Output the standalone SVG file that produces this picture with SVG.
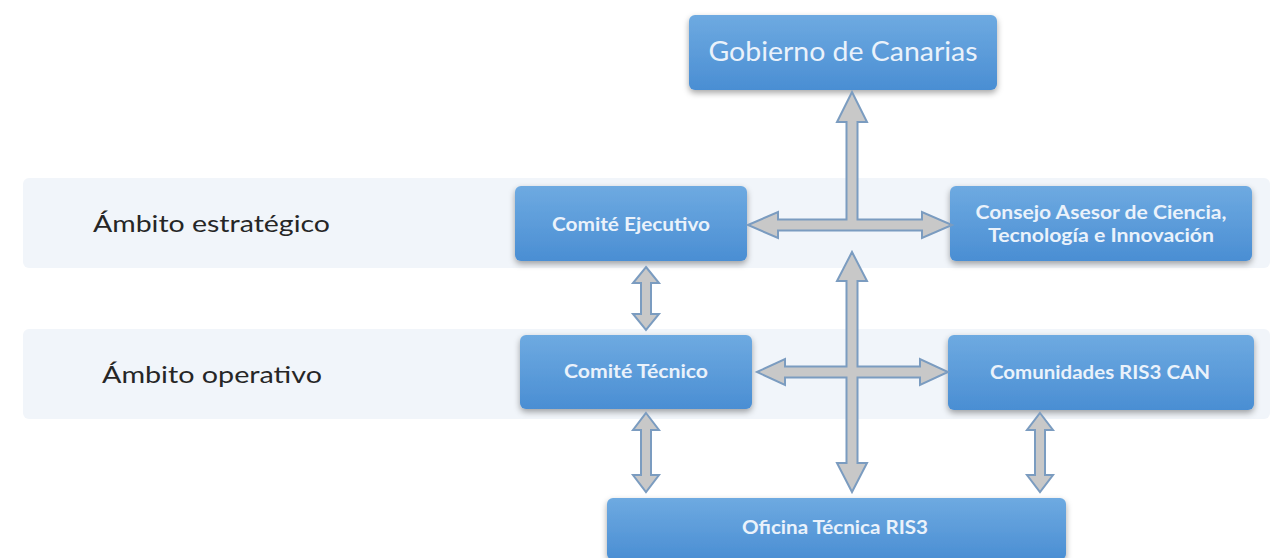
<svg xmlns="http://www.w3.org/2000/svg" width="1281" height="558" viewBox="0 0 1281 558">
<defs>
<linearGradient id="boxGrad" x1="0" y1="0" x2="0" y2="1">
<stop offset="0" stop-color="#6eaae1"/>
<stop offset="1" stop-color="#4a8ed3"/>
</linearGradient>
<filter id="shadow" x="-10%" y="-20%" width="120%" height="150%">
<feDropShadow dx="0" dy="3" stdDeviation="3" flood-color="#000" flood-opacity="0.35"/>
</filter>
<style>
.band{fill:#f1f5fa;}
.box{fill:url(#boxGrad);filter:url(#shadow);}
.lbl{font-family:Lato,"Open Sans","Liberation Sans",sans-serif;fill:#eaf2fb;text-anchor:middle;font-weight:bold;}
.side{font-family:Lato,"Open Sans","Liberation Sans",sans-serif;fill:#262626;font-size:24px;}
.arrow{fill:#c8c8c8;stroke:#7b9cc0;stroke-width:2;stroke-linejoin:miter;}
</style>
</defs>
<rect width="1281" height="558" fill="#ffffff"/>
<g id="bands">
<rect class="band" x="23" y="178" width="1247" height="90" rx="6"/>
<rect class="band" x="23" y="329" width="1247" height="90" rx="6"/>
<text class="side" x="93" y="232" textLength="237" lengthAdjust="spacingAndGlyphs">Ámbito estratégico</text>
<text class="side" x="102" y="383" textLength="220" lengthAdjust="spacingAndGlyphs">Ámbito operativo</text>
</g>
<g id="gobierno">
<rect class="box" x="689" y="15" width="308" height="75" rx="6"/>
<text class="lbl" x="843" y="61" font-size="26" style="font-weight:normal" textLength="269" lengthAdjust="spacingAndGlyphs">Gobierno de Canarias</text>
</g>
<g id="comite-ejecutivo">
<rect class="box" x="515" y="186" width="232" height="75" rx="6"/>
<text class="lbl" x="631" y="231" font-size="18" textLength="158" lengthAdjust="spacingAndGlyphs">Comité Ejecutivo</text>
</g>
<g id="consejo">
<rect class="box" x="950" y="186" width="302" height="75" rx="6"/>
<text class="lbl" x="1101" y="219" font-size="18" textLength="251" lengthAdjust="spacingAndGlyphs">Consejo Asesor de Ciencia,</text>
<text class="lbl" x="1101" y="242" font-size="18" textLength="226" lengthAdjust="spacingAndGlyphs">Tecnología e Innovación</text>
</g>
<g id="comite-tecnico">
<rect class="box" x="520" y="335" width="232" height="74" rx="6"/>
<text class="lbl" x="636" y="378" font-size="18" textLength="144" lengthAdjust="spacingAndGlyphs">Comité Técnico</text>
</g>
<g id="comunidades">
<rect class="box" x="948" y="335" width="306" height="75" rx="6"/>
<text class="lbl" x="1100" y="379" font-size="18" textLength="220" lengthAdjust="spacingAndGlyphs">Comunidades RIS3 CAN</text>
</g>
<g id="oficina">
<rect class="box" x="607" y="498" width="459" height="62" rx="6"/>
<text class="lbl" x="835" y="534" font-size="18" textLength="186" lengthAdjust="spacingAndGlyphs">Oficina Técnica RIS3</text>
</g>
<g id="connectors">
<polygon class="arrow" points="748,225 778,212 778,219.5 846.5,219.5 846.5,122 837,122 852,92 867,122 857.5,122 857.5,219.5 922,219.5 922,212 952,225 922,238 922,230.5 778,230.5 778,238"/>
<polygon class="arrow" points="757,372 785,359 785,366.5 846.5,366.5 846.5,281 837,281 852,252 867,281 857.5,281 857.5,366.5 920,366.5 920,359 948,372 920,385 920,377.5 857.5,377.5 857.5,463 867,463 852,492 837,463 846.5,463 846.5,377.5 785,377.5 785,385"/>
<polygon class="arrow" points="646,267 659,283 651,283 651,314 659,314 646,330 633,314 641,314 641,283 633,283"/>
<polygon class="arrow" points="646,413 659,430 651,430 651,475 659,475 646,492 633,475 641,475 641,430 633,430"/>
<polygon class="arrow" points="1040,413 1053,430 1045,430 1045,475 1053,475 1040,492 1027,475 1035,475 1035,430 1027,430"/>
</g>
</svg>
